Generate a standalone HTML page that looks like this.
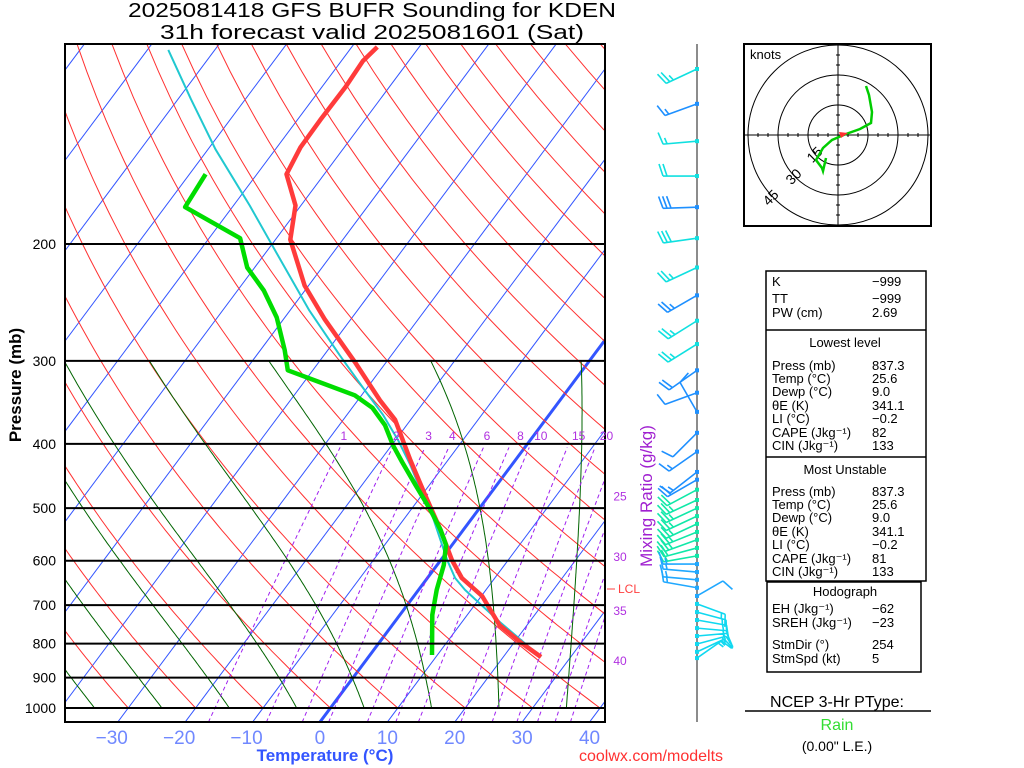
<!DOCTYPE html>
<html><head><meta charset="utf-8"><style>
body{margin:0;background:#fff;width:1024px;height:768px;overflow:hidden}
svg{display:block;font-family:"Liberation Sans","DejaVu Sans",sans-serif}
</style></head><body>
<svg id="s" width="1024" height="768" viewBox="0 0 1024 768">
<defs><clipPath id="pc"><rect x="65" y="44" width="540" height="678"/></clipPath></defs>
<g id="grid" clip-path="url(#pc)"></g>
<g id="prof" clip-path="url(#pc)"></g>
<rect x="65" y="44" width="540" height="678" fill="none" stroke="#000" stroke-width="2"/>
<g id="axes"></g>
<line x1="697" y1="44" x2="697" y2="722" stroke="#666" stroke-width="1.5"/>
<g id="barbs"></g>
<g font-size="20" text-anchor="middle">
<text x="372" y="17" textLength="488" lengthAdjust="spacingAndGlyphs">2025081418 GFS BUFR Sounding for KDEN</text>
<text x="372" y="39" textLength="424" lengthAdjust="spacingAndGlyphs">31h forecast valid 2025081601 (Sat)</text>
</g>
<text transform="translate(21,385) rotate(-90)" text-anchor="middle" font-size="17" font-weight="bold">Pressure (mb)</text>
<text x="325" y="761" text-anchor="middle" font-size="17" font-weight="bold" fill="#3355ff">Temperature (°C)</text>
<text transform="translate(652,496) rotate(-90)" text-anchor="middle" font-size="17" fill="#a020d0">Mixing Ratio (g/kg)</text>
<text x="651" y="761" text-anchor="middle" font-size="16" fill="#ff3030">coolwx.com/modelts</text>
<g id="hodo">
<rect x="744" y="44" width="187" height="182" fill="#fff" stroke="#000" stroke-width="2"/>
<text x="750" y="59" font-size="13">knots</text>
</g>
<g font-size="13">
<rect x="766" y="271" width="160" height="310" fill="none" stroke="#000" stroke-width="1.5"/>
<line x1="766" y1="330" x2="926" y2="330" stroke="#000" stroke-width="1.5"/>
<line x1="766" y1="457" x2="926" y2="457" stroke="#000" stroke-width="1.5"/>
<rect x="767" y="582" width="154" height="90" fill="none" stroke="#000" stroke-width="1.5"/>
<g id="tbl"></g>
</g>
<g font-size="16" text-anchor="middle">
<text x="837" y="707">NCEP 3-Hr PType:</text>
<line x1="745" y1="711" x2="931" y2="711" stroke="#000" stroke-width="1.5"/>
<text x="837" y="730" fill="#33dd33">Rain</text>
<text x="837" y="751" font-size="14">(0.00" L.E.)</text>
</g>
</svg>
<script>
// ---- data ----
const pressureTicks=[200,300,400,500,600,700,800,900,1000];
const tempTicks=[-30,-20,-10,0,10,20,30,40];
const tempP=[838,795,750,678,637,598,539,478,423,395,368,344,301,260,231,197,175,157,143,130,116,106,101];
const tempT=[25.6,20.8,15.9,10.1,5.1,1.6,-3.4,-9.5,-15.6,-18.9,-22.3,-26.7,-34.7,-43.8,-50.6,-57.8,-60.8,-65.6,-66.5,-66.6,-66.5,-66.8,-66.2];
const dewP=[832,724,664,609,568,539,503,461,426,402,375,353,338,310,289,258,235,217,196,176,157];
const dewT=[9.2,4.8,2.7,1.0,-0.9,-3.4,-7.1,-12.1,-16.6,-19.8,-23.2,-27.0,-31.0,-43.7,-46.4,-51.2,-56.1,-61.1,-65.4,-77.0,-77.6];
const parcelP=[838,742,664,637,598,558,503,469,430,395,362,332,294,252,211,175,144,121,102];
const parcelT=[25.6,15.6,6.9,4.1,0.9,-2.3,-7.1,-10.8,-15.1,-19.6,-24.6,-30.1,-37.7,-47.1,-57.1,-67.6,-78.9,-88.1,-96.9];
const mixVals=[1,2,3,4,6,8,10,15,20,25,30,35,40];
const mixLabelP=[400,400,400,400,400,400,400,400,400,480,592,714,850];
const thetaWVals=[-35,-25,-15,-5,5,15,25,35];
const windP=[109,123,140,158,176,196,217,239,261,283,310,335,358,385,411,441,453,469,486,500,514,528,543,558,574,590,607,624,641,659,678,697,717,737,758,779,801,823,841];
const windDir=[245,250,265,270,268,262,245,240,238,238,235,250,330,225,235,232,240,242,245,245,245,245,248,250,255,260,270,275,275,280,60,110,105,100,95,85,75,65,55];
const windSpd=[25,15,15,20,30,30,25,25,25,25,20,10,10,10,15,15,20,20,25,25,25,25,25,25,20,20,15,15,15,15,10,15,15,15,15,15,15,15,15];
const hodoU=[-6,-7.5,-8,-11,-7.5,-3,4,11,16.5,17,15.5,14];
const hodoV=[-11.5,-18,-16.5,-12.5,-6.5,-2.5,0.5,3,6,11.5,20,24.5];
// ---- axes ----
const S='http://www.w3.org/2000/svg';
const yOf=p=>708-288.3*Math.log(1000/p);
const xOf=(T,p)=>320+6.74*T+0.746*(722-yOf(p));
function mk(tag,at,parent){const e=document.createElementNS(S,tag);for(const k in at)e.setAttribute(k,at[k]);parent.appendChild(e);return e;}
function pathOf(pts){return 'M'+pts.map(q=>q[0].toFixed(1)+','+q[1].toFixed(1)).join('L');}
function tdOf(w,p){const e=w/1000*p/(0.622+w/1000);const L=Math.log(e/6.112);return 243.5*L/(17.67-L);}
const grid=document.getElementById('grid'),prof=document.getElementById('prof'),axes=document.getElementById('axes');
// isotherms
for(let T=-130;T<=40;T+=10){
 const l=mk('line',{x1:xOf(T,1050),y1:yOf(1050),x2:xOf(T,100),y2:yOf(100),stroke:'#3355ff','stroke-width':T===0?3:1},grid);
 
 
}
// dry adiabats
for(let th=233.15;th<=483.15;th+=10){
 const pts=[];for(let p=1000;p>=100;p-=10)pts.push([xOf(th*Math.pow(p/1000,0.286)-273.15,p),yOf(p)]);
 const e=mk('path',{d:pathOf(pts),fill:'none',stroke:'#ff3030','stroke-width':1},grid);
 
 
}
// moist adiabats
function es(T){return 6.112*Math.exp(17.67*(T-273.15)/(T-29.65));}
for(const tw of thetaWVals){
 let T=tw+273.15;const pts=[];
 for(let p=1000;p>=300;p-=5){
  pts.push([xOf(T-273.15,p),yOf(p)]);
  const e=es(T),rs=0.622*e/(p-e);
  const d=(287*T+2.5e6*rs)/(p*(1004+2.5e6*2.5e6*rs*0.622/(287*T*T)));
  T-=d*5;
 }
 const e=mk('path',{d:pathOf(pts),fill:'none',stroke:'#006400','stroke-width':1},grid);
 
 
}
// mixing ratio
mixVals.forEach((w,i)=>{
 const pts=[];for(let p=1050;p>=405;p-=5)pts.push([xOf(tdOf(w,p),p),yOf(p)]);
 const e=mk('path',{d:pathOf(pts),fill:'none',stroke:'#a020f0','stroke-width':1,'stroke-dasharray':'4,3'},grid);
 
 
 let lx,ly;
 if(w<=20){lx=xOf(tdOf(w,400),400)+(w>=8?10:2);ly=440;}
 else{lx=620;ly=yOf(mixLabelP[i])+4;}
 const t=mk('text',{x:lx,y:ly,'font-size':12,fill:'#b030e0','text-anchor':'middle'},axes);
 t.textContent=w;
 
 
});
// pressure lines and labels
for(const p of pressureTicks){
 const l=mk('line',{x1:65,y1:yOf(p),x2:605,y2:yOf(p),stroke:'#000','stroke-width':2},axes);
 
 
 const t=mk('text',{x:56,y:yOf(p)+5,'font-size':14,'text-anchor':'end'},axes);
 t.textContent=p;
 
 
}
for(const T of tempTicks){
 const t=mk('text',{x:xOf(T,1050)+(T<0?-6:0),y:744,'font-size':19,fill:'#7088ff','text-anchor':'middle'},axes);
 t.textContent=(T<0?'\u2212'+(-T):T);
 
 
}
{const t=mk('text',{x:618,y:593,'font-size':12,fill:'#ff4040'},axes);t.textContent='LCL';
 
 
 mk('line',{x1:607,y1:589,x2:615,y2:589,stroke:'#ff4040'},axes);}
// profiles
function prof1(P,T,col,w,name){
 const e=mk('path',{d:pathOf(P.map((p,i)=>[xOf(T[i],p),yOf(p)])),fill:'none',stroke:col,'stroke-width':w,'stroke-linejoin':'round'},prof);
 
 
}
prof1(parcelP,parcelT,'#20c8d0',2,'parcel-trace');
prof1(tempP,tempT,'#ff3b3b',4.5,'temperature-line');
prof1(dewP,dewT,'#00dd00',4.5,'dewpoint-line');
// barbs
const bg=document.getElementById('barbs');
windP.forEach((p,i)=>{
 const y=yOf(p),x=697,d=windDir[i]*Math.PI/180;
 const ux=Math.sin(d),uy=-Math.cos(d),L=p>670?30:34;
 const col=p<300?(i%3===1?'#1e90ff':'#10e0e0'):(p<460?'#1e90ff':(p<600?'#10e8a8':(p<680?'#20a8ff':'#10d8f0')));
 let dd=`M${x},${y}L${x+ux*L},${y+uy*L}`;
 let s=windSpd[i],pos=L;const px=-uy,py=ux;
 while(s>=10){const bx=x+ux*pos,by=y+uy*pos;dd+=`M${bx},${by}L${bx+px*12+ux*4},${by+py*12+uy*4}`;pos-=4;s-=10;}
 if(s>=5){const bx=x+ux*pos,by=y+uy*pos;dd+=`M${bx},${by}L${bx+px*6+ux*2},${by+py*6+uy*2}`;}
 const e=mk('path',{d:dd,fill:'none',stroke:col,'stroke-width':1.6},bg);
 
 
 const r=mk('rect',{x:x-2,y:y-2,width:4,height:4,fill:col},bg);
 
 
});
// hodograph
const hg=document.getElementById('hodo'),hx=838,hy=135,hs=2;
[15,30,45].forEach(r=>{mk('circle',{cx:hx,cy:hy,r:r*hs,fill:'none',stroke:'#000','stroke-width':1},hg);});
mk('line',{x1:745,y1:hy,x2:930,y2:hy,stroke:'#000'},hg);mk('line',{x1:hx,y1:45,x2:hx,y2:225,stroke:'#000'},hg);
for(let k=-45;k<=45;k+=5){if(!k)continue;mk('line',{x1:hx+k*hs,y1:hy-2,x2:hx+k*hs,y2:hy+2,stroke:'#000'},hg);mk('line',{x1:hx-2,y1:hy+k*hs,x2:hx+2,y2:hy+k*hs,stroke:'#000'},hg);}
[['15',818,158],['30',797,180],['45',774,201]].forEach(a=>{const t=mk('text',{x:a[1],y:a[2],'font-size':14,transform:`rotate(-45 ${a[1]} ${a[2]})`,'text-anchor':'middle'},hg);t.textContent=a[0];});
{const e=mk('path',{d:pathOf(hodoU.map((u,i)=>[hx+u*hs,hy-hodoV[i]*hs])),fill:'none',stroke:'#00cc00','stroke-width':2.5},hg);
 
 }
mk('path',{d:`M${hx+1},${hy-3}L${hx+10},${hy-2}L${hx+3},${hy+3}Z`,fill:'#ff3030'},hg);
// table
const rows=[['K','\u2212999',286],['TT','\u2212999',303],['PW (cm)','2.69',317],['Press (mb)','837.3',370],['Temp (°C)','25.6',383],['Dewp (°C)','9.0',396],['θE (K)','341.1',410],['LI (°C)','\u22120.2',423],['CAPE (Jkg⁻¹)','82',437],['CIN (Jkg⁻¹)','133',450],
['Press (mb)','837.3',496],['Temp (°C)','25.6',509],['Dewp (°C)','9.0',522],['θE (K)','341.1',536],['LI (°C)','\u22120.2',549],['CAPE (Jkg⁻¹)','81',563],['CIN (Jkg⁻¹)','133',576],
['EH (Jkg⁻¹)','\u221262',613],['SREH (Jkg⁻¹)','\u221223',627],['StmDir (°)','254',649],['StmSpd (kt)','5',663]];
const tb=document.getElementById('tbl');
rows.forEach(r=>{const a=mk('text',{x:772,y:r[2]},tb);a.textContent=r[0];
 
 
 const b=mk('text',{x:872,y:r[2]},tb);b.textContent=r[1];
 
 });
[['Lowest level',347],['Most Unstable',474],['Hodograph',596]].forEach(h=>{const t=mk('text',{x:845,y:h[1],'text-anchor':'middle'},tb);t.textContent=h[0];
 
 });
</script>
</body></html>
